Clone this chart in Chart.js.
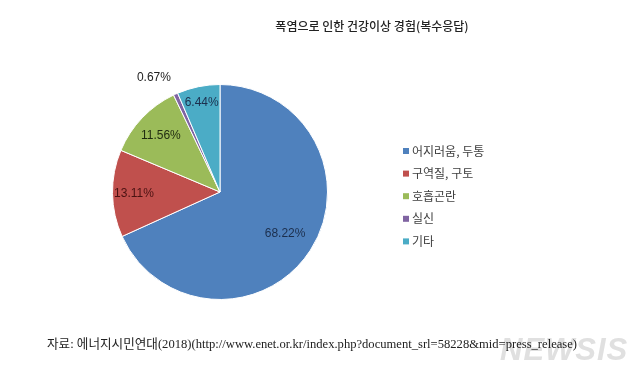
<!DOCTYPE html>
<html>
<head>
<meta charset="utf-8">
<script src="https://cdn.jsdelivr.net/npm/chart.js@4"></script>
<style>
  html, body { margin:0; padding:0; background:#fff; }
  #wrap { position:relative; width:640px; height:381px; overflow:hidden; }
  #c { position:absolute; left:0; top:0; }
  .title { position:absolute; left:0; top:17px; width:744px; text-align:center; font-family:"Noto Sans CJK KR","Noto Sans",sans-serif; font-size:12px; color:#222; font-weight:500; }
  .foot { position:absolute; left:47px; top:333px; font-family:"Liberation Serif","Noto Sans CJK KR",serif; font-size:12.6px; color:#222; white-space:nowrap; }
  .mark { position:absolute; left:500px; top:332px; font-family:"Liberation Sans",sans-serif; font-weight:bold; font-style:italic; font-size:31px; color:#e0e0e0; letter-spacing:1px; }
</style>
</head>
<body>
<div id="wrap">
  <canvas id="c" width="640" height="381"></canvas>
  <div class="title">폭염으로 인한 건강이상 경험(복수응답)</div>
  <div class="mark">NEWSIS</div>
  <div class="foot">자료: 에너지시민연대(2018)(http://www.enet.or.kr/index.php?document_srl=58228&amp;mid=press_release)</div>
</div>
<script>
const categories = ["어지러움, 두통", "구역질, 구토", "호흡곤란", "실신", "기타"];
const values = [68.22, 13.11, 11.56, 0.67, 6.44];
const colors = ["#4F81BD", "#C0504D", "#9BBB59", "#8064A2", "#4BACC6"];
const labelColors = ["#1c2f4d", "#4a1212", "#1f2a10", "#222222", "#1c2f4d"];

const labelPlugin = {
  id: 'pieLabels',
  afterDatasetsDraw(chart) {
    const ctx = chart.ctx;
    const meta = chart.getDatasetMeta(0);
    ctx.save();
    ctx.font = '12px "Liberation Sans", Arial, sans-serif';
    ctx.textBaseline = 'middle';
    meta.data.forEach((arc, i) => {
      const p = arc.getProps(['x','y','startAngle','endAngle','outerRadius'], true);
      const mid = (p.startAngle + p.endAngle) / 2;
      const small = values[i] < 2;
      let r;
      if (small) r = p.outerRadius * 1.15;
      else if (values[i] > 50) r = p.outerRadius * 0.72;
      else if (values[i] < 8) r = p.outerRadius * 0.85;
      else if (values[i] < 12) r = p.outerRadius * 0.76;
      else r = p.outerRadius * 0.8;
      const x = p.x + Math.cos(mid) * r;
      const y = p.y + Math.sin(mid) * r;
      ctx.fillStyle = small ? '#222' : labelColors[i];
      ctx.textAlign = small ? (Math.cos(mid) < 0 ? 'right' : 'left') : 'center';
      ctx.fillText(values[i].toFixed(2) + '%', x + (small ? 2 : 0), y - (small ? 2 : 0));
    });
    ctx.restore();
  }
};

const legendPlugin = {
  id: 'sideLegend',
  afterDraw(chart) {
    const ctx = chart.ctx;
    ctx.save();
    ctx.font = '12px "Noto Sans CJK KR", sans-serif';
    ctx.textBaseline = 'middle';
    ctx.textAlign = 'left';
    categories.forEach((name, i) => {
      const y = 151 + i * 22.6;
      ctx.fillStyle = colors[i];
      ctx.fillRect(403, y - 3, 6, 6);
      ctx.fillStyle = '#404040';
      ctx.fillText(name, 412, y);
    });
    ctx.restore();
  }
};

new Chart(document.getElementById('c'), {
  type: 'pie',
  data: {
    labels: categories,
    datasets: [{
      data: values,
      backgroundColor: colors,
      borderColor: '#ffffff',
      borderWidth: 1
    }]
  },
  options: {
    responsive: false,
    animation: false,
    layout: { padding: { left: 112, right: 312, top: 84, bottom: 81 } },
    plugins: { legend: { display: false }, tooltip: { enabled: false } }
  },
  plugins: [labelPlugin, legendPlugin]
});
</script>
</body>
</html>
